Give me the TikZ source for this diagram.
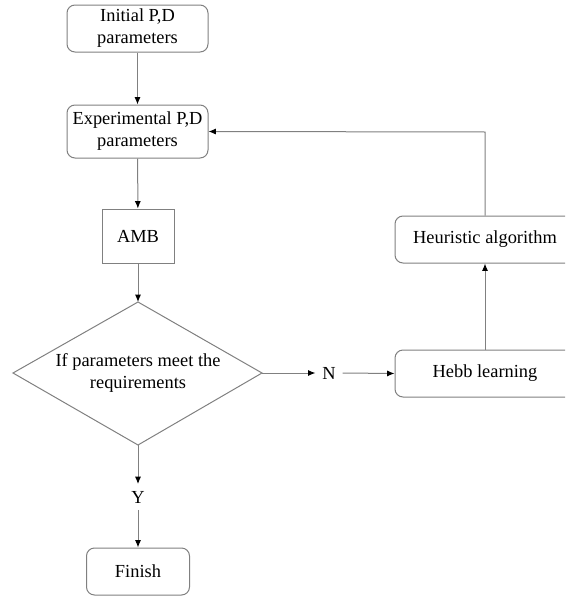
\documentclass[tikz,border=0pt]{standalone}
\usepackage{fontspec}
\setmainfont{Liberation Serif}
\usetikzlibrary{arrows.meta,positioning}
\definecolor{linegray}{RGB}{128,128,128}
\begin{document}
\begin{tikzpicture}[x=0.75pt,y=-0.75pt,
  font=\fontsize{13.8}{16.5}\selectfont,
  box/.style={draw=linegray,line width=0.75pt,rounded corners=6pt,align=center,inner sep=0pt},
  sqbox/.style={draw=linegray,line width=0.75pt,align=center,inner sep=0pt},
  conn/.style={draw=linegray,line width=0.75pt,-{Latex[length=5.5pt,width=4.5pt,color=black]}},
  lbl/.style={inner sep=0pt}]
\useasboundingbox (0,0) rectangle (565,596);
\clip (0,0) rectangle (565,596);
\node[box,minimum width=105.75pt,minimum height=35.25pt] (init) at (137.5,28.5) {Initial P,D\\parameters};
\node[box,minimum width=105.75pt,minimum height=39.75pt] (exp) at (137.5,131.5) {Experimental P,D\\parameters};
\node[sqbox,minimum width=54pt,minimum height=40.5pt] (amb) at (138,236) {AMB};
\coordinate (dtop) at (138,302);
\coordinate (dright) at (262,373);
\coordinate (dbottom) at (138,445);
\coordinate (dleft) at (13,373);
\draw[linegray,line width=0.75pt] (dtop) -- (dright) -- (dbottom) -- (dleft) -- cycle;
\node[lbl,align=center] (dec) at (138,373) {If parameters meet the\\requirements};
\node[lbl] (n) at (329,373) {N};
\node[box,minimum width=135pt,minimum height=35.25pt] (hebb) at (485,373.5) {Hebb learning};
\node[box,minimum width=135pt,minimum height=35.25pt] (heur) at (485,239.5) {Heuristic algorithm};
\node[lbl] (y) at (138,497) {Y};
\node[box,minimum width=77.25pt,minimum height=35.25pt] (fin) at (138,571.5) {Finish};
\coordinate (corner) at (485,132);
\draw[conn] (init) -- (exp);
\draw[conn] (exp) -- (amb);
\draw[conn] (amb) -- (dtop);
\draw[conn] (dright) -- ([xshift=-5pt]n.west);
\draw[conn] ([xshift=5pt]n.east) -- (hebb.west);
\draw[conn] (hebb) -- (heur);
\draw[conn] (heur.north) -- (corner) -- (exp.east);
\draw[conn] (dbottom) -- ([yshift=5pt]y.north);
\draw[conn] ([yshift=-5pt]y.south) -- (fin.north);
\end{tikzpicture}
\end{document}
